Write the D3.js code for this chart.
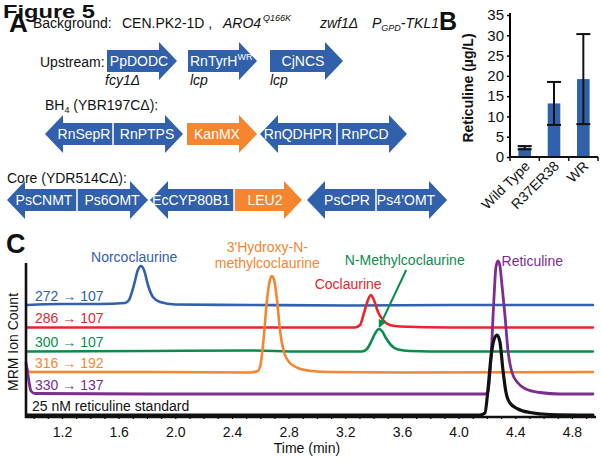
<!DOCTYPE html>
<html><head><meta charset="utf-8">
<script src="https://cdn.jsdelivr.net/npm/d3@7"></script>
<style>body{margin:0;background:#fff} svg{display:block} text{font-family:"Liberation Sans",Arial,Helvetica,sans-serif}</style>
</head><body><svg id="c" width="601" height="460"></svg>
<script>
// ---------- DATA ----------
const upstreamGenes = ["PpDODC", "RnTyrH", "CjNCS"];
const upstreamNotes = ["fcy1Δ", "lcp", "lcp"];
const bh4Genes = ["RnSepR", "RnPTPS", "KanMX", "RnQDHPR", "RnPCD"];
const coreGenes = ["PsCNMT", "Ps6OMT", "EcCYP80B1", "LEU2", "PsCPR", "Ps4’OMT"];

const bCategories = ["Wild Type", "R37ER38", "WR"];
const bValues = [2.3, 13.2, 19.2];
const bErrors = [0.4, 5.3, 11.1];
const bTicks = [0, 5, 10, 15, 20, 25, 30, 35];

const timeTicks = [1.2, 1.6, 2.0, 2.4, 2.8, 3.2, 3.6, 4.0, 4.4, 4.8];
const transitions = ["272 → 107", "286 → 107", "300 → 107", "316 → 192", "330 → 137", "25 nM reticuline standard"];
const compounds = ["Norcoclaurine", "3'Hydroxy-N-", "methylcoclaurine", "Coclaurine", "N-Methylcoclaurine", "Reticuline"];

// [time (min), MRM count (arbitrary, stacked)]
const traceBlue = [[0.953,111],[1.186,112],[1.468,112],[1.645,113],[1.673,116],[1.708,131],[1.736,146],[1.758,150],[1.779,146],[1.807,131],[1.842,119],[1.892,114],[1.998,111.5],[2.527,111],[3.233,110.5],[3.939,111],[4.948,111]];
const traceRed = [[0.953,88.5],[1.821,88.5],[2.527,88.5],[3.268,88.5],[3.304,91],[3.332,103],[3.360,116],[3.381,121],[3.402,116],[3.431,104],[3.466,96],[3.515,91],[3.586,89.5],[3.939,88.5],[4.948,88.5]];
const traceGreen = [[0.953,64.5],[1.821,65],[2.527,65.5],[2.880,64.5],[3.318,64.5],[3.353,67],[3.388,76],[3.416,84],[3.438,87],[3.459,85],[3.487,78],[3.522,71],[3.572,66.5],[3.656,65],[3.939,64.5],[4.948,64.5]];
const traceOrange = [[0.946,50],[0.974,44],[1.821,44],[2.527,43.5],[2.583,45],[2.605,54],[2.626,81],[2.647,116],[2.668,136],[2.682,140],[2.696,137],[2.718,116],[2.739,86],[2.767,64],[2.809,53],[2.866,48],[2.965,45],[3.092,44],[3.586,43.5],[4.948,44]];
const tracePurple = [[0.946,53],[0.960,41],[0.981,25],[1.009,22.5],[1.821,22],[2.880,22],[3.586,22],[4.186,22],[4.207,24],[4.228,56],[4.249,116],[4.263,148],[4.278,155],[4.292,150],[4.306,131],[4.327,101],[4.348,66],[4.376,44],[4.419,33],[4.475,27],[4.574,23.5],[4.715,22],[4.948,22]];
const traceBlack = [[0.953,1],[4.151,1],[4.186,3],[4.207,26],[4.228,58],[4.249,76],[4.271,81],[4.292,74],[4.313,46],[4.334,24],[4.362,13],[4.419,7],[4.503,3.5],[4.645,1.5],[4.948,1]];

// ---------- STYLE ----------
const BLUE = "#3160AC", ORANGE = "#F5862F", RED = "#E5262C", GREEN = "#0C8C4C", PURPLE = "#7C2D8F", BLACK = "#111";
const svg = d3.select("#c");

function text(x, y, s, o = {}) {
  const t = svg.append("text").attr("x", x).attr("y", y).text(s)
    .attr("font-size", o.size || 14).attr("fill", o.fill || "#111")
    .attr("text-anchor", o.anchor || "start");
  if (o.bold) t.attr("font-weight", "bold");
  if (o.italic) t.attr("font-style", "italic");
  if (o.rotate) t.attr("transform", `rotate(${o.rotate},${x},${y})`);
  return t;
}

// ---------- PANEL A ----------
text(3, 18, "Figure 5", {size: 19, bold: true}).attr("textLength", 92).attr("lengthAdjust", "spacingAndGlyphs");
text(9, 32, "A", {size: 26, bold: true});
text(33, 28, "Background:");
text(122, 28, "CEN.PK2-1D ,");
text(223, 28, "ARO4", {italic: true});
text(263, 21, "Q166K", {italic: true, size: 9});
text(320, 28, "zwf1Δ", {italic: true});
const pg = text(372, 28, "P", {italic: true});
pg.append("tspan").attr("font-size", 9).attr("dy", 3).text("GPD");
pg.append("tspan").attr("dy", -3).text("-TKL1");
text(40, 67, "Upstream:");
const bh = text(45, 110, "BH");
bh.append("tspan").attr("font-size", 9).attr("dy", 3).text("4");
bh.append("tspan").attr("dy", -3).text(" (YBR197CΔ):");
text(7, 183, "Core (YDR514CΔ):");

function arrowPts(xl, xr, cy, lh, rh) {
  const b = 11, h = 19, hl = 18, p = [];
  if (lh) p.push([xl, cy], [xl + hl, cy - h], [xl + hl, cy - b]); else p.push([xl, cy - b]);
  if (rh) p.push([xr - hl, cy - b], [xr - hl, cy - h], [xr, cy], [xr - hl, cy + h], [xr - hl, cy + b]);
  else p.push([xr, cy - b], [xr, cy + b]);
  if (lh) p.push([xl + hl, cy + b], [xl + hl, cy + h]); else p.push([xl, cy + b]);
  return p;
}
const constructs = [
  {cy: 61, xl: 107, xr: 177, rh: true, genes: [[upstreamGenes[0], 139]]},
  {cy: 61, xl: 188, xr: 257, rh: true, genes: [[upstreamGenes[1], 214]], sup: "WR"},
  {cy: 61, xl: 270, xr: 343, rh: true, genes: [[upstreamGenes[2], 303]]},
  {cy: 134, xl: 45, xr: 183, lh: true, rh: true, div: 113, genes: [[bh4Genes[0], 84], [bh4Genes[1], 147]]},
  {cy: 134, xl: 187, xr: 257, rh: true, color: ORANGE, genes: [[bh4Genes[2], 217]]},
  {cy: 134, xl: 260, xr: 407, lh: true, rh: true, div: 337, genes: [[bh4Genes[3], 298], [bh4Genes[4], 365]]},
  {cy: 200, xl: 7, xr: 148, lh: true, rh: true, div: 77, genes: [[coreGenes[0], 44], [coreGenes[1], 112]]},
  {cy: 200, xl: 150, xr: 234, lh: true, genes: [[coreGenes[2], 191]]},
  {cy: 200, xl: 234, xr: 302, rh: true, color: ORANGE, genes: [[coreGenes[3], 265]]},
  {cy: 200, xl: 307, xr: 447, lh: true, rh: true, div: 376, genes: [[coreGenes[4], 347], [coreGenes[5], 406]]},
];
constructs.forEach(c => {
  svg.append("polygon").attr("points", arrowPts(c.xl, c.xr, c.cy, c.lh, c.rh).join(" "))
    .attr("fill", c.color || BLUE);
  if (c.div) svg.append("line").attr("x1", c.div).attr("x2", c.div)
    .attr("y1", c.cy - 11).attr("y2", c.cy + 11).attr("stroke", "#fff").attr("stroke-width", 1.5);
  c.genes.forEach(([g, cx]) => {
    const t = text(cx, c.cy + 5, g, {fill: "#fff", anchor: "middle"});
    if (c.sup) { t.attr("text-anchor", "start").attr("x", cx - 24); t.append("tspan").attr("font-size", 9).attr("dy", -6).text(c.sup); }
  });
});
svg.append("line").attr("x1", 234).attr("x2", 234).attr("y1", 189).attr("y2", 211).attr("stroke", "#fff").attr("stroke-width", 1.5);
[105, 190, 270].forEach((x, i) => text(x, 85, upstreamNotes[i], {italic: true}));

// ---------- PANEL B ----------
text(439, 30, "B", {size: 25, bold: true});
const yB = d3.scaleLinear().domain([0, 35]).range([157, 15]);
const xB = d3.scaleBand().domain(bCategories).range([510, 598]).paddingInner(0.57).paddingOuter(0.285);
const gB = svg.append("g");
gB.append("g").attr("transform", "translate(510,0)")
  .call(d3.axisLeft(yB).tickValues(bTicks).tickSize(3).tickPadding(3))
  .call(g => g.select(".domain").attr("d", "M0,13V157").attr("stroke-width", 2))
  .call(g => g.selectAll("line").attr("stroke-width", 1.5))
  .call(g => g.selectAll("text").attr("font-size", 15).attr("font-family", '"Liberation Sans",Arial,sans-serif').attr("fill", "#111"));
gB.selectAll("rect.bar").data(bValues).join("rect")
  .attr("x", (d, i) => xB(bCategories[i])).attr("width", xB.bandwidth())
  .attr("y", d => yB(d)).attr("height", d => yB(0) - yB(d)).attr("fill", BLUE);
bValues.forEach((v, i) => {
  const cx = xB(bCategories[i]) + xB.bandwidth() / 2, e = bErrors[i];
  const g = gB.append("g").attr("stroke", BLACK).attr("stroke-width", 2);
  g.append("line").attr("x1", cx).attr("x2", cx).attr("y1", yB(v - e)).attr("y2", yB(v + e));
  [v - e, v + e].forEach(y => g.append("line").attr("x1", cx - 7).attr("x2", cx + 7).attr("y1", yB(y)).attr("y2", yB(y)));
});
gB.append("line").attr("x1", 509).attr("x2", 598).attr("y1", 157).attr("y2", 157).attr("stroke", BLACK).attr("stroke-width", 2);
[510, 539.3, 568.7, 598].forEach(x => gB.append("line").attr("x1", x).attr("x2", x).attr("y1", 157).attr("y2", 161).attr("stroke", BLACK).attr("stroke-width", 1.5));
bCategories.forEach(c => {
  const x = xB(c) + xB.bandwidth() / 2 + 6;
  text(x, 167, c, {anchor: "end", rotate: -45, size: 14});
});
text(473, 88, "Reticuline (µg/L)", {bold: true, anchor: "middle", rotate: -90});

// ---------- PANEL C ----------
text(6, 253, "C", {size: 27, bold: true});
const xC = d3.scaleLinear().domain([0.946, 4.97]).range([26, 596]);
const yC = d3.scaleLinear().domain([0, 170]).range([416, 246]);
const traces = [
  {d: traceBlue, c: BLUE, w: 2.6}, {d: traceRed, c: RED, w: 2.6}, {d: traceGreen, c: GREEN, w: 2.6},
  {d: traceOrange, c: ORANGE, w: 2.6}, {d: tracePurple, c: PURPLE, w: 2.8}, {d: traceBlack, c: BLACK, w: 3.2}
];
const line = d3.line().x(d => xC(d[0])).y(d => yC(d[1])).curve(d3.curveMonotoneX);
// minor ticks
svg.append("g").attr("transform", "translate(0,416)")
  .call(d3.axisBottom(xC).tickValues(d3.range(1.0, 4.95, 0.1)).tickSize(3).tickFormat(""))
  .call(g => g.select(".domain").remove())
  .call(g => g.selectAll("line").attr("stroke-width", 1.2));
svg.append("g").attr("transform", "translate(0,416)")
  .call(d3.axisBottom(xC).tickValues(timeTicks).tickSize(0).tickPadding(11).tickFormat(d3.format(".1f")))
  .call(g => g.select(".domain").remove())
  .call(g => g.selectAll("text").attr("font-size", 14).attr("font-family", '"Liberation Sans",Arial,sans-serif').attr("fill", "#111"));
traces.forEach((t, i) => {
  svg.append("path").attr("d", line(t.d)).attr("fill", "none").attr("stroke", t.c)
    .attr("stroke-width", t.w).attr("stroke-linejoin", "round").attr("stroke-linecap", "round");
  const last = t.d[t.d.length - 1][1];
  text(i === 5 ? 32 : 35, yC(last) - 4.5, transitions[i], {fill: t.c === BLACK ? "#111" : t.c});
});
svg.append("path").attr("d", "M26,263V417H596").attr("fill", "none").attr("stroke", BLACK).attr("stroke-width", 2.6);
text(18, 342, "MRM Ion Count", {anchor: "middle", rotate: -90});
text(307, 453, "Time (min)", {anchor: "middle"});

// compound labels
text(xC(1.71), 262, compounds[0], {fill: BLUE, anchor: "middle"});
text(xC(2.65), 252, compounds[1], {fill: ORANGE, anchor: "middle"});
text(xC(2.65), 268, compounds[2], {fill: ORANGE, anchor: "middle"});
text(xC(3.22), 289, compounds[3], {fill: RED, anchor: "middle"});
text(xC(3.62), 265, compounds[4], {fill: GREEN, anchor: "middle"});
text(xC(4.303), 266, compounds[5], {fill: PURPLE});
// green pointer arrow
svg.append("defs").append("marker").attr("id", "ah").attr("viewBox", "0 0 10 10").attr("refX", 9).attr("refY", 5)
  .attr("markerWidth", 4).attr("markerHeight", 4).attr("orient", "auto")
  .append("path").attr("d", "M0,0L10,5L0,10z").attr("fill", GREEN);
svg.append("line").attr("x1", xC(3.63)).attr("y1", 270).attr("x2", xC(3.44)).attr("y2", yC(87) - 2)
  .attr("stroke", GREEN).attr("stroke-width", 2).attr("marker-end", "url(#ah)");
</script></body></html>
